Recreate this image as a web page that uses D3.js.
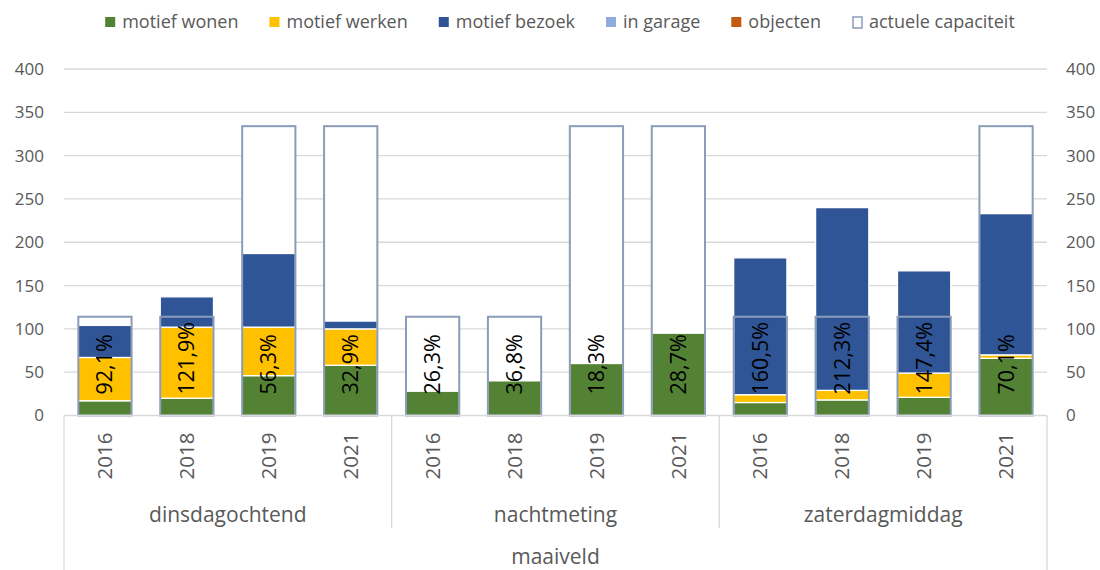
<!DOCTYPE html>
<html>
<head>
<meta charset="utf-8">
<script src="https://cdn.jsdelivr.net/npm/d3@7"></script>
<style>
	body { margin: 0; background: white; }
	text { font-family: "Open Sans", sans-serif; }
	.tick text { fill: #595959; font-size: 17px; }
	.grid line { stroke: #d9d9d9; stroke-width: 1.3; }
</style>
</head>
<body>
<svg id="chart" width="1100" height="570"></svg>
<script>
var groups = ["dinsdagochtend", "nachtmeting", "zaterdagmiddag"];
var years = ["2016", "2018", "2019", "2021"];
var topLabel = "maaiveld";

var seriesNames = ["motief wonen", "motief werken", "motief bezoek", "in garage", "objecten"];
var wonen   = [17, 20, 46, 58, 28, 40, 60, 95, 15, 18, 21, 66];
var werken  = [50, 82, 56, 42, 0, 0, 0, 0, 9, 11, 28, 4];
var bezoek  = [37, 35, 85, 9, 0, 0, 0, 0, 158, 211, 118, 163];
var garage  = [0, 0, 0, 0, 0, 0, 0, 0, 0, 0, 0, 0];
var objecten = [0, 0, 0, 0, 0, 0, 0, 0, 0, 0, 0, 0];
var capaciteit = [114, 114, 334, 334, 114, 114, 334, 334, 114, 114, 114, 334];
var pctLabels = ["92,1%", "121,9%", "56,3%", "32,9%", "26,3%", "36,8%", "18,3%", "28,7%", "160,5%", "212,3%", "147,4%", "70,1%"];
var yTicks = [0, 50, 100, 150, 200, 250, 300, 350, 400];

window.onload = init;

function init() {
	var svg = d3.select("#chart");
	var m = { left: 64, right: 1047, top: 69, bottom: 415.5 };
	var colors = ["#548235", "#ffc000", "#2f5597", "#8faadc", "#c55a11"];
	var capColor = "#8a9cb8";

	// one key per bar: group|year
	var keys = [];
	groups.forEach(function(g) {
		years.forEach(function(yr) { keys.push(g + "|" + yr); });
	});

	var rows = keys.map(function(k, i) {
		return { key: k, wonen: wonen[i], werken: werken[i], bezoek: bezoek[i],
			garage: garage[i], objecten: objecten[i], cap: capaciteit[i], pct: pctLabels[i] };
	});

	var x = d3.scaleBand().domain(keys).range([m.left, m.right])
		.paddingInner(0.35).paddingOuter(0.175);
	var y = d3.scaleLinear().domain([0, 400]).range([m.bottom, m.top]);

	// gridlines
	svg.append("g").attr("class", "grid")
		.selectAll("line").data(yTicks.slice(1)).enter().append("line")
		.attr("x1", m.left).attr("x2", m.right)
		.attr("y1", function(d) { return y(d); })
		.attr("y2", function(d) { return y(d); });

	var yLeft = d3.axisLeft(y).tickValues(yTicks).tickSize(0).tickPadding(20);
	var yRight = d3.axisRight(y).tickValues(yTicks).tickSize(0).tickPadding(19);
	svg.append("g").attr("transform", "translate(" + m.left + ",0)").call(yLeft)
		.select(".domain").remove();
	svg.append("g").attr("transform", "translate(" + m.right + ",0)").call(yRight)
		.select(".domain").remove();

	// capacity background (white fill, hides gridlines)
	svg.append("g").selectAll("rect").data(rows).enter().append("rect")
		.attr("x", function(d) { return x(d.key); })
		.attr("width", x.bandwidth())
		.attr("y", function(d) { return y(d.cap); })
		.attr("height", function(d) { return y(0) - y(d.cap); })
		.attr("fill", "white");

	var stack = d3.stack().keys(["wonen", "werken", "bezoek", "garage", "objecten"]);
	var layers = stack(rows);

	svg.append("g").selectAll("g").data(layers).enter().append("g")
		.attr("fill", function(d, i) { return colors[i]; })
		.selectAll("rect").data(function(d) { return d.filter(function(p) { return p[1] > p[0]; }); })
		.enter().append("rect")
		.attr("x", function(d) { return x(d.data.key); })
		.attr("width", x.bandwidth())
		.attr("y", function(d) { return y(d[1]); })
		.attr("height", function(d) { return y(d[0]) - y(d[1]); })
		.attr("stroke", "white")
		.attr("stroke-width", 1.3);

	// capacity outline on top
	svg.append("g").selectAll("rect").data(rows).enter().append("rect")
		.attr("x", function(d) { return x(d.key); })
		.attr("width", x.bandwidth())
		.attr("y", function(d) { return y(d.cap); })
		.attr("height", function(d) { return y(0) - y(d.cap); })
		.attr("fill", "none")
		.attr("stroke", capColor)
		.attr("stroke-width", 2);

	// data labels
	svg.append("g").selectAll("text").data(rows).enter().append("text")
		.attr("transform", function(d) {
			return "translate(" + (x(d.key) + x.bandwidth() / 2) + "," + (y(0) - 21) + ") rotate(-90)";
		})
		.attr("dy", "0.35em")
		.attr("fill", "black")
		.style("font-size", "21.5px")
		.text(function(d) { return d.pct; });

	// category axis
	var axisCol = "#d9d9d9";
	svg.append("line").attr("x1", m.left).attr("x2", m.right)
		.attr("y1", m.bottom).attr("y2", m.bottom)
		.attr("stroke", axisCol).attr("stroke-width", 1.3);

	var groupW = (m.right - m.left) / groups.length;
	var seps = d3.range(groups.length + 1).map(function(i) { return m.left + i * groupW; });
	svg.append("g").selectAll("line").data(seps).enter().append("line")
		.attr("x1", function(d) { return d; }).attr("x2", function(d) { return d; })
		.attr("y1", m.bottom)
		.attr("y2", function(d, i) { return (i == 0 || i == groups.length) ? 570 : 528; })
		.attr("stroke", axisCol).attr("stroke-width", 1.3);

	svg.append("g").selectAll("text").data(keys).enter().append("text")
		.attr("transform", function(d) {
			return "translate(" + (x(d) + x.bandwidth() / 2) + "," + (m.bottom + 17) + ") rotate(-90)";
		})
		.attr("dy", "0.35em")
		.attr("text-anchor", "end")
		.attr("fill", "#595959")
		.style("font-size", "20.5px")
		.text(function(d) { return d.split("|")[1]; });

	svg.append("g").selectAll("text").data(groups).enter().append("text")
		.attr("x", function(d, i) { return m.left + (i + 0.5) * groupW; })
		.attr("y", 515)
		.attr("dy", "0.35em")
		.attr("text-anchor", "middle")
		.attr("fill", "#595959")
		.style("font-size", "21px")
		.text(function(d) { return d; });

	svg.append("text")
		.attr("x", (m.left + m.right) / 2)
		.attr("y", 557)
		.attr("dy", "0.35em")
		.attr("text-anchor", "middle")
		.attr("fill", "#595959")
		.style("font-size", "21px")
		.text(topLabel);

	drawLegend(svg, colors, capColor);
}

function drawLegend(svg, colors, capColor) {
	var items = seriesNames.concat(["actuele capaciteit"]);
	var leg = svg.append("g");
	var cx = 0;
	items.forEach(function(name, i) {
		var g = leg.append("g").attr("transform", "translate(" + cx + ",0)");
		if (i < colors.length) {
			g.append("rect").attr("x", 0).attr("y", -5).attr("width", 10).attr("height", 10)
				.attr("fill", colors[i]);
		} else {
			g.append("rect").attr("x", 1).attr("y", -5).attr("width", 9).attr("height", 11)
				.attr("fill", "white").attr("stroke", capColor).attr("stroke-width", 1.5);
		}
		var t = g.append("text").attr("x", 17).attr("dy", "0.35em")
			.attr("fill", "#595959").style("font-size", "18px").text(name);
		cx += 17 + t.node().getComputedTextLength() + 31;
	});
	var total = cx - 31;
	leg.attr("transform", "translate(" + (560 - total / 2) + ",22)");
}
</script>
</body>
</html>
